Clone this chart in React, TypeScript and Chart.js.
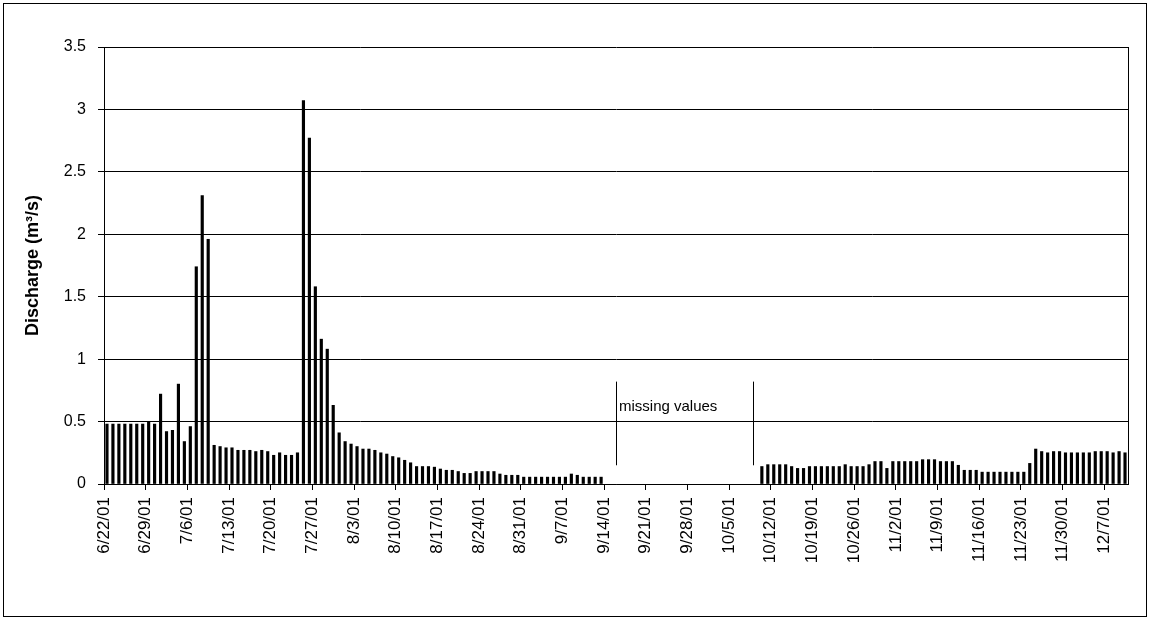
import React, { useEffect, useRef } from "react";
import { Chart, registerables } from "chart.js";

Chart.register(...registerables);

// Daily discharge (m3/s), one value per day starting 6/22/01; null = missing
const junDischarge = [0.48, 0.48, 0.48, 0.48, 0.48, 0.48, 0.48, 0.5, 0.48];
const julDischarge = [
  0.72, 0.42, 0.43, 0.8, 0.34, 0.46, 1.74, 2.31, 1.96, 0.31, 0.3, 0.29, 0.29, 0.27, 0.27, 0.27,
  0.26, 0.27, 0.26, 0.23, 0.25, 0.23, 0.23, 0.25, 3.07, 2.77, 1.58, 1.16, 1.08, 0.63, 0.41,
];
const augDischarge = [
  0.34, 0.32, 0.3, 0.28, 0.28, 0.27, 0.25, 0.24, 0.22, 0.21, 0.19, 0.17, 0.14, 0.14, 0.14, 0.135,
  0.12, 0.11, 0.11, 0.1, 0.085, 0.085, 0.1, 0.1, 0.1, 0.1, 0.08, 0.07, 0.07, 0.07, 0.055,
];
const sepDischarge = [
  0.055, 0.055, 0.055, 0.055, 0.055, 0.055, 0.055, 0.08, 0.07, 0.055, 0.055, 0.055, 0.055,
  null, null, null, null, null, null, null, null, null, null, null, null, null, null, null, null, null,
];
const octDischarge = [
  null, null, null, null, null, null, null, null, null,
  0.14, 0.155, 0.155, 0.155, 0.155, 0.14, 0.125, 0.125, 0.14, 0.14, 0.14, 0.14, 0.14, 0.14, 0.155,
  0.14, 0.14, 0.14, 0.155, 0.18, 0.18, 0.125,
];
const novDischarge = [
  0.18, 0.18, 0.18, 0.18, 0.18, 0.195, 0.195, 0.195, 0.18, 0.18, 0.18, 0.15, 0.11, 0.11, 0.11,
  0.095, 0.095, 0.095, 0.095, 0.095, 0.095, 0.095, 0.095, 0.165, 0.28, 0.26, 0.25, 0.26, 0.26, 0.25,
];
const decDischarge = [0.25, 0.25, 0.25, 0.25, 0.26, 0.26, 0.26, 0.25, 0.26, 0.25];

const discharge: (number | null)[] = [
  ...junDischarge,
  ...julDischarge,
  ...augDischarge,
  ...sepDischarge,
  ...octDischarge,
  ...novDischarge,
  ...decDischarge,
];

// Weekly tick labels (every 7 days from 6/22/01)
const tickLabels = [
  "6/22/01", "6/29/01", "7/6/01", "7/13/01", "7/20/01", "7/27/01", "8/3/01", "8/10/01",
  "8/17/01", "8/24/01", "8/31/01", "9/7/01", "9/14/01", "9/21/01", "9/28/01", "10/5/01",
  "10/12/01", "10/19/01", "10/26/01", "11/2/01", "11/9/01", "11/16/01", "11/23/01",
  "11/30/01", "12/7/01",
];
const tickStep = 7;
const yTicks = [0, 0.5, 1, 1.5, 2, 2.5, 3, 3.5];

// Annotation of the gap (day indices and values)
const missingLabel = "missing values";
const missingFromDay = 86;
const missingToDay = 109;
const missingLineTop = 0.82;
const missingLineBottom = 0.15;
const missingTextAt = 0.62;

const FONT = "'Liberation Sans', Arial, sans-serif";

export default function App() {
  const ref = useRef<HTMLCanvasElement>(null);

  useEffect(() => {
    const annotate = {
      id: "annotate",
      afterDraw(chart: any) {
        const { ctx, chartArea, scales } = chart;
        const x = scales.x;
        const y = scales.y;
        ctx.save();
        ctx.strokeStyle = "#000";
        ctx.lineWidth = 1;
        ctx.beginPath();
        const r = Math.round(chartArea.right) + 0.5;
        ctx.moveTo(r, Math.round(chartArea.top));
        ctx.lineTo(r, Math.round(chartArea.bottom));
        [missingFromDay, missingToDay].forEach((d) => {
          const px = Math.round(x.getPixelForValue(d)) + 0.5;
          ctx.moveTo(px, y.getPixelForValue(missingLineTop));
          ctx.lineTo(px, y.getPixelForValue(missingLineBottom));
        });
        ctx.stroke();
        ctx.fillStyle = "#000";
        ctx.font = `15px ${FONT}`;
        ctx.textBaseline = "middle";
        ctx.textAlign = "left";
        ctx.fillText(
          missingLabel,
          x.getPixelForValue(missingFromDay) + 3,
          y.getPixelForValue(missingTextAt)
        );
        ctx.restore();
      },
    };

    const points = discharge.flatMap((v, i) => (v == null ? [] : [{ x: i + 0.5, y: v }]));

    const chart = new Chart(ref.current as HTMLCanvasElement, {
      type: "bar",
      data: {
        datasets: [
          {
            data: points as any,
            backgroundColor: "#000",
            borderWidth: 0,
            barThickness: 2.5,
          },
        ],
      },
      options: {
        responsive: false,
        animation: false,
        layout: { padding: { top: 47, right: 23, left: 0, bottom: 0 } },
        plugins: { legend: { display: false }, tooltip: { enabled: false } },
        scales: {
          x: {
            type: "linear",
            min: 0,
            max: discharge.length,
            offset: false,
            grid: {
              drawOnChartArea: false,
              drawTicks: true,
              tickLength: 6,
              color: "#000",
              offset: false,
            },
            border: { color: "#000", width: 1 },
            afterBuildTicks: (s: any) => {
              s.ticks = tickLabels.map((_, k) => ({ value: k * tickStep }));
            },
            afterFit: (s: any) => {
              s.height = 137;
            },
            ticks: {
              autoSkip: false,
              maxRotation: 90,
              minRotation: 90,
              padding: 7,
              color: "#000",
              font: { family: FONT, size: 17 },
              callback: (v: any) => tickLabels[Math.round(Number(v) / tickStep)],
            },
          },
          y: {
            min: yTicks[0],
            max: yTicks[yTicks.length - 1],
            afterFit: (s: any) => {
              s.width = 104;
            },
            afterBuildTicks: (s: any) => {
              s.ticks = yTicks.map((v) => ({ value: v }));
            },
            ticks: {
              padding: 12,
              color: "#000",
              font: { family: FONT, size: 16 },
              callback: (v: any) => String(v),
            },
            grid: { color: "#000", tickLength: 6 },
            border: { color: "#000" },
            title: {
              display: true,
              text: "Discharge (m³/s)",
              color: "#000",
              font: { family: FONT, size: 18, weight: "bold" },
              padding: { top: 22, bottom: 0 },
            },
          },
        },
      } as any,
      plugins: [annotate],
    });
    return () => chart.destroy();
  }, []);

  return (
    <div style={{ position: "absolute", left: 0, top: 0, width: 1151, height: 621, background: "#fff" }}>
      <canvas ref={ref} width={1151} height={621} style={{ position: "absolute", left: 0, top: 0 }} />
      <div
        style={{
          position: "absolute",
          left: 3,
          top: 3,
          width: 1142,
          height: 612,
          border: "1px solid #000",
          pointerEvents: "none",
        }}
      />
    </div>
  );
}
